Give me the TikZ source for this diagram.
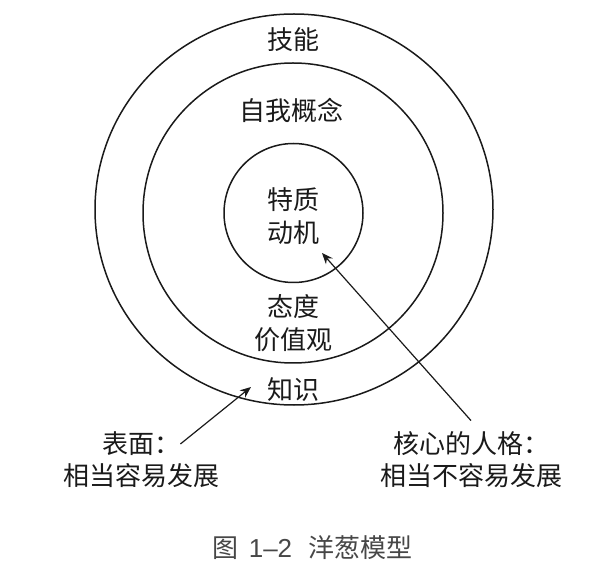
\documentclass[tikz,border=0pt]{standalone}
\usepackage{fontspec}
\setmainfont{Noto Sans CJK SC}
\newfontfamily\latinsans{Liberation Sans}
\usepackage{xcolor}
\usepackage{tikz}
\usetikzlibrary{arrows.meta,positioning,shapes.geometric}
\definecolor{ink}{HTML}{1A1A1A}
\definecolor{capgray}{HTML}{474747}
\tikzset{
  layerring/.style={
    ellipse, draw=ink, line width=0.75pt,
    inner sep=0pt, outer sep=0pt
  },
  layertext/.style={
    font=\fontsize{13}{16.5}\selectfont, align=center,
    text=ink, inner sep=0pt
  },
  notetext/.style={
    font=\fontsize{13}{16.5}\selectfont, align=center,
    text=ink, inner sep=0pt
  },
  captext/.style={
    font=\fontsize{13}{15}\selectfont, text=capgray, inner sep=0pt
  },
  pointer/.style={
    -{Stealth[length=5.5pt,width=4.5pt]}, line width=0.6pt, draw=ink
  },
}

\begin{document}
\begin{tikzpicture}[x=0.5pt, y=-0.5pt]
    \useasboundingbox (0,0) rectangle (600,572);

    % Onion layers, outside in
    \node[layerring, minimum width=199pt, minimum height=195.5pt] (outer) at (294,209.5) {};
    \node[layerring, minimum width=150pt, minimum height=150pt] (middle) at (293,213) {};
    \node[layerring, minimum width=69.5pt, minimum height=69.5pt] (inner) at (293.5,213) {};

    % Layer texts
    \node[layertext] (skill) at (293,40) {技能};
    \node[layertext] (selfconcept) at (291,110) {自我概念};
    \node[layertext] (trait) at (293,216) {特质\\动机};
    \node[layertext] (attitude) at (293,323.5) {态度\\价值观};
    \node[layertext] (knowledge) at (293,390) {知识};

    % Notes below the onion
    \node[notetext] (surfhead) at (141,444) {表面：};
    \node[notetext, below=3.5pt of surfhead] (surfnote) {相当容易发展};
    \node[notetext] (corehead) at (471,444) {核心的人格：};
    \node[notetext, below=3.5pt of corehead] (corenote) {相当不容易发展};

    % Caption
    \node[captext] (caption) at (312.5,548) {图\hspace{5pt}{\latinsans 1–2}\hspace{8pt}洋葱模型};

    % Pointers
    \coordinate (knowtip) at (251,387);
    \coordinate (motivetip) at (322,253);
    \draw[pointer] (surfhead.east) -- (knowtip);
    \draw[pointer] ([yshift=5.5pt]corehead.north) -- (motivetip);
\end{tikzpicture}
\end{document}
